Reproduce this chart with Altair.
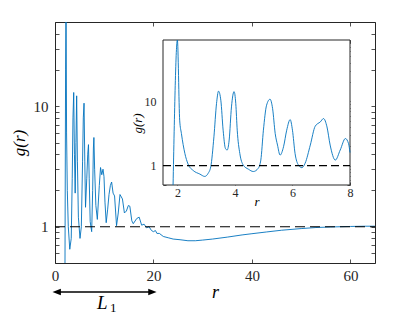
import altair as alt
import pandas as pd

# ---------------- data ----------------
main_r = [1.9, 2.03, 2.15, 2.24, 2.35, 2.5, 2.7, 3.0, 3.3, 3.5, 3.65, 3.8, 3.95, 4.1, 4.25,
          4.4, 4.55, 4.75, 5.08, 5.35, 5.6, 5.75, 5.9, 6.05, 6.2, 6.45, 6.65, 6.8, 6.95,
          7.15, 7.45, 7.65, 7.8, 7.9, 8.05, 8.3, 8.6, 9.0, 9.25, 9.5, 9.75, 9.95, 10.15,
          10.4, 10.7, 10.97, 11.25, 11.5, 11.8, 12.1, 12.5, 12.85, 13.2, 13.7, 14.1, 14.5,
          14.9, 15.2, 15.6, 15.9, 16.6, 17.1, 17.6, 18.1, 18.6, 19.1, 19.6, 20.0, 20.4,
          20.7, 21.2, 22, 23, 24, 25.4, 27, 28.5, 30, 32, 35, 38, 40, 43, 46, 50, 53, 56,
          60, 63, 65]
main_g = [0.3, 0.5, 20, 90, 6, 2.0, 1.0, 0.65, 0.8, 2.5, 8, 13, 4, 1.9, 5,
          12.2, 3.5, 1.2, 0.8, 1.0, 3.5, 8, 10.6, 3.5, 1.45, 2.5, 4, 4.8, 2.5,
          1.1, 0.91, 2.0, 4.5, 5.5, 3.0, 1.5, 1.15, 2.2, 3.1, 2.7, 3.0, 2.6, 1.6,
          1.08, 1.4, 1.85, 2.2, 2.35, 1.9, 1.8, 1.02, 1.3, 1.85, 1.7, 1.3, 1.35,
          1.5, 1.48, 1.12, 1.06, 1.17, 1.2, 1.03, 1.05, 0.98, 1.0, 0.93, 0.91, 0.93,
          0.88, 0.88, 0.83, 0.81, 0.79, 0.78, 0.765, 0.765, 0.775, 0.79, 0.82, 0.855,
          0.875, 0.905, 0.935, 0.965, 0.985, 0.995, 1.005, 1.01, 1.01]

inset_r = [1.85, 2.0, 2.08, 2.14, 2.26, 2.37, 2.55, 2.78, 2.95, 3.07, 3.16, 3.27, 3.36,
           3.43, 3.51, 3.59, 3.67, 3.73, 3.80, 3.88, 3.97, 4.03, 4.08, 4.17, 4.29, 4.47,
           4.64, 4.81, 4.90, 4.99, 5.10, 5.22, 5.31, 5.40, 5.48, 5.57, 5.69, 5.80, 5.92,
           6.00, 6.09, 6.21, 6.33, 6.44, 6.62, 6.79, 6.97, 7.08, 7.20, 7.31, 7.49, 7.66,
           7.84, 7.95, 8.0]
inset_g = [0.5, 90, 5.1, 3.16, 1.55, 1.06, 0.84, 0.74, 0.68, 0.76, 0.96, 2.81, 9.2,
           14.4, 10.4, 3.56, 1.85, 1.75, 2.5, 8.2, 14.2, 9.2, 3.56, 1.55, 1.02, 0.88,
           0.81, 0.91, 1.22, 3.56, 8.7, 10.8, 7.7, 3.16, 2.09, 1.46, 1.97, 3.56, 5.2,
           3.56, 1.55, 1.02, 0.93, 1.09, 2.09, 4.1, 4.8, 5.4, 4.0, 2.09, 1.22, 1.75,
           2.64, 2.2, 1.6]

ref_level = 1.0
L1 = 20
main_x_domain = [0, 65]
main_y_domain = [0.5, 50]
inset_x_domain = [1.5, 8]
inset_y_domain = [0.5, 90]
main_x_ticks = [0, 20, 40, 60]
inset_x_ticks = [2, 4, 6, 8]
main_y_ticks = [0.5, 0.6, 0.7, 0.8, 0.9, 1, 2, 3, 4, 5, 6, 7, 8, 9, 10, 20, 30, 40, 50]
inset_y_ticks = main_y_ticks + [60, 70, 80, 90]

# ---------------- layout / style ----------------
W, H = 320, 241
INSET_X = [108, 295]
INSET_Y = [163, 18]
BLUE = "#0072BD"
INK = "#262626"
SERIF = "Liberation Serif"
LABEL_EXPR = "datum.value == 1 || datum.value == 10 ? format(datum.value, 'd') : ''"

main_xs = alt.Scale(domain=main_x_domain, nice=False, zero=False)
main_ys = alt.Scale(type="log", domain=main_y_domain, nice=False)
inset_xs = alt.Scale(domain=inset_x_domain, range=INSET_X, nice=False, zero=False, clamp=True)
inset_ys = alt.Scale(type="log", domain=inset_y_domain, range=INSET_Y, nice=False, clamp=True)

main_x_axis = alt.Axis(orient="bottom", values=main_x_ticks, offset=-4, tickSize=4,
                       labelPadding=5, labelFontSize=15, title="r", titleFontSize=18,
                       titlePadding=0)
main_y_axis = alt.Axis(orient="left", values=main_y_ticks, offset=-4, tickSize=4,
                       labelPadding=7, labelFontSize=15, labelExpr=LABEL_EXPR,
                       title="g(r)", titleFontSize=17, titlePadding=5)
main_top_axis = alt.Axis(orient="top", values=main_x_ticks, offset=-4, tickSize=4,
                         labels=False, title=None)
main_right_axis = alt.Axis(orient="right", values=main_y_ticks, offset=-4, tickSize=4,
                           labels=False, title=None)

inset_x_axis = alt.Axis(orient="bottom", values=inset_x_ticks, offset=-81, tickSize=3,
                        labelPadding=2, labelFontSize=12, title="r", titleFontSize=13,
                        titlePadding=-3)
inset_y_axis = alt.Axis(orient="left", values=inset_y_ticks, offset=-111, tickSize=3,
                        labelPadding=7, labelFontSize=12, labelExpr=LABEL_EXPR,
                        title="g(r)", titleFontSize=13, titlePadding=0, titleY=101)
inset_top_axis = alt.Axis(orient="top", values=inset_x_ticks, offset=-21, tickSize=3,
                          labels=False, title=None)
inset_right_axis = alt.Axis(orient="right", values=inset_y_ticks, offset=-28, tickSize=3,
                            labels=False, title=None)

main_df = pd.DataFrame({"r": main_r, "g": main_g})
inset_df = pd.DataFrame({"r": inset_r, "g": inset_g})
main_ref_df = pd.DataFrame({"r": main_x_domain, "g": [ref_level, ref_level]})
inset_ref_df = pd.DataFrame({"r": inset_x_domain, "g": [ref_level, ref_level]})
arrow_df = pd.DataFrame({"start": [0], "end": [L1]})
head_l_df = pd.DataFrame({"pos": [0]})
head_r_df = pd.DataFrame({"pos": [L1]})
label_df = pd.DataFrame({"mid": [L1 / 2]})
frame_df = pd.DataFrame({"x0": [inset_x_domain[0]], "x1": [inset_x_domain[1]],
                         "y0": [inset_y_domain[0]], "y1": [inset_y_domain[1]]})

ARROW_Y = 270
LABEL_Y = 287


def mx(field):
    return alt.X(f"{field}:Q", scale=main_xs, axis=main_x_axis)


# ---- main panel ----
main_line = alt.Chart(main_df).mark_line(color=BLUE, strokeWidth=0.9, clip=True).encode(
    x=mx("r"), y=alt.Y("g:Q", scale=main_ys, axis=main_y_axis))
arrow = alt.Chart(arrow_df).mark_rule(color="black", strokeWidth=1.5).encode(
    x=mx("start"), x2="end", y=alt.value(ARROW_Y))
head_l = alt.Chart(head_l_df).mark_point(
    shape="M-0.6,0L1.4,-0.8L1.4,0.8Z", filled=True, size=70, color="black", opacity=1
).encode(x=mx("pos"), y=alt.value(ARROW_Y))
head_r = alt.Chart(head_r_df).mark_point(
    shape="M0.75,0L-1.25,-0.8L-1.25,0.8Z", filled=True, size=70, color="black", opacity=1
).encode(x=mx("pos"), y=alt.value(ARROW_Y))
lab_L = alt.Chart(label_df).mark_text(
    text="L", font=SERIF, fontStyle="italic", fontSize=19, baseline="alphabetic",
    align="center", dx=-2, color="black"
).encode(x=mx("mid"), y=alt.value(LABEL_Y))
lab_1 = alt.Chart(label_df).mark_text(
    text="1", font=SERIF, fontSize=13, baseline="alphabetic", align="center",
    dx=9, dy=3, color="black"
).encode(x=mx("mid"), y=alt.value(LABEL_Y))

layer_main = alt.layer(main_line, arrow, head_l, head_r, lab_L, lab_1)

layer_main_ref = alt.Chart(main_ref_df).mark_line(
    color="black", strokeWidth=1.1, strokeDash=[10, 5]
).encode(x=alt.X("r:Q", scale=main_xs, axis=main_top_axis),
         y=alt.Y("g:Q", scale=main_ys, axis=main_right_axis))

# ---- inset ----
frame = alt.Chart(frame_df).mark_rect(fill="white", stroke=INK, strokeWidth=1).encode(
    x=alt.X("x0:Q", scale=inset_xs, axis=inset_x_axis), x2="x1",
    y=alt.Y("y0:Q", scale=inset_ys, axis=inset_y_axis), y2="y1")
inset_line = alt.Chart(inset_df).mark_line(
    color=BLUE, strokeWidth=0.9, interpolate="monotone"
).encode(x=alt.X("r:Q", scale=inset_xs, axis=inset_x_axis),
         y=alt.Y("g:Q", scale=inset_ys, axis=inset_y_axis))
layer_inset = alt.layer(frame, inset_line)

layer_inset_ref = alt.Chart(inset_ref_df).mark_line(
    color="black", strokeWidth=1.1, strokeDash=[8, 4]
).encode(x=alt.X("r:Q", scale=inset_xs, axis=inset_top_axis),
         y=alt.Y("g:Q", scale=inset_ys, axis=inset_right_axis))

chart = alt.layer(layer_main, layer_main_ref, layer_inset, layer_inset_ref).resolve_scale(
    x="independent", y="independent"
).resolve_axis(
    x="independent", y="independent"
).properties(
    width=W, height=H,
    autosize=alt.AutoSizeParams(type="none"),
    padding={"left": 47, "top": 14, "right": 32, "bottom": 52},
).configure_view(
    stroke=INK, strokeWidth=1
).configure_axis(
    grid=False, domain=False, labelFont=SERIF, titleFont=SERIF, titleFontStyle="italic",
    titleFontWeight="normal", labelColor=INK, titleColor="black", tickColor=INK,
    tickWidth=0.8, labelFlush=False, labelOverlap=False, zindex=1,
)

chart.save("out.html", embed_options={"renderer": "svg", "actions": False})
